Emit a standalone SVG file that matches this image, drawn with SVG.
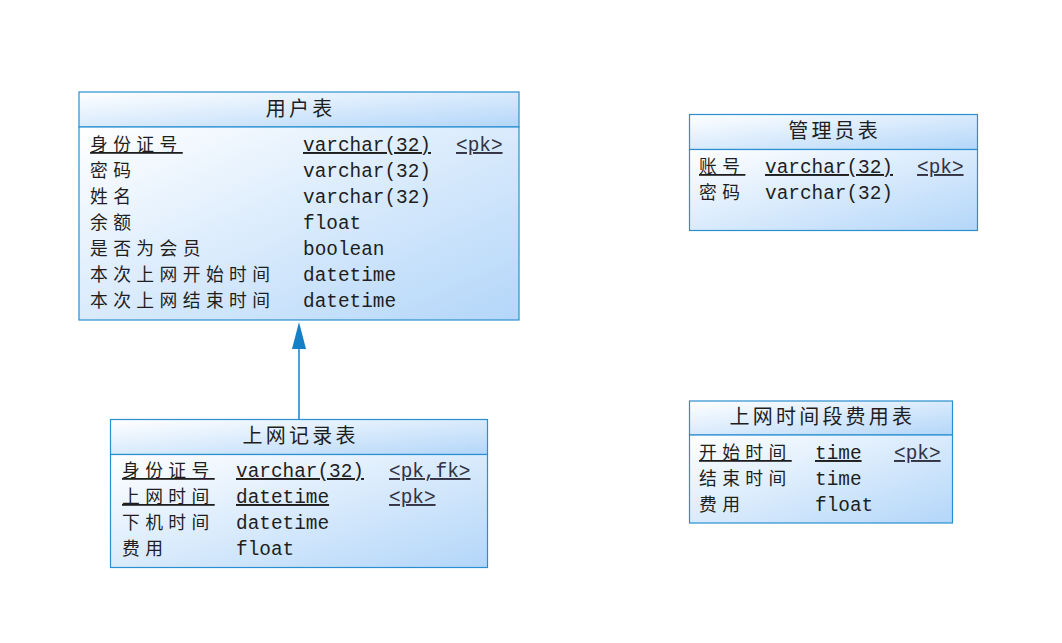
<svg xmlns="http://www.w3.org/2000/svg" width="1062" height="643" viewBox="0 0 1062 643">
<defs>
<linearGradient id="g" x1="0" y1="0" x2="1" y2="1">
<stop offset="0" stop-color="#ffffff"/>
<stop offset="1" stop-color="#b3d6f9"/>
</linearGradient>
<style>
.box{fill:url(#g);stroke:#2a8fd0;stroke-width:1.2}
.cn{font-family:"Noto Sans CJK SC","Liberation Sans",sans-serif;font-size:17.8px;letter-spacing:5.4px;fill:#1e1e1e}
.t{font-family:"Noto Sans CJK SC","Liberation Sans",sans-serif;font-size:20px;letter-spacing:3.2px;fill:#1e1e1e;text-anchor:middle}
.en{font-family:"Liberation Mono","DejaVu Sans Mono",monospace;font-size:19.4px;fill:#1e1e1e}
.k{font-family:"Liberation Mono","DejaVu Sans Mono",monospace;font-size:19.4px;fill:#333344}
.u{text-decoration:underline}
.conn{stroke:#1580c8;stroke-width:1.5;fill:none}
.head{fill:#1580c8}
</style>
</defs>
<rect width="1062" height="643" fill="#ffffff"/>

<g id="connectors">
<line class="conn" x1="299" y1="419" x2="299" y2="345"/>
<path class="head" d="M299,322 L306,349 L292,349 Z"/>
</g>

<g id="user">
<rect class="box" x="79" y="92" width="440" height="35"/>
<rect class="box" x="79" y="127" width="440" height="193"/>
<text class="t" x="300.6" y="116">用户表</text>
<text class="cn u" x="90" y="151">身份证号</text>
<text class="cn" x="90" y="177">密码</text>
<text class="cn" x="90" y="203">姓名</text>
<text class="cn" x="90" y="229">余额</text>
<text class="cn" x="90" y="255">是否为会员</text>
<text class="cn" x="90" y="281">本次上网开始时间</text>
<text class="cn" x="90" y="307">本次上网结束时间</text>
<text class="en u" x="303" y="151">varchar(32)</text>
<text class="en" x="303" y="177">varchar(32)</text>
<text class="en" x="303" y="203">varchar(32)</text>
<text class="en" x="303" y="229">float</text>
<text class="en" x="303" y="255">boolean</text>
<text class="en" x="303" y="281">datetime</text>
<text class="en" x="303" y="307">datetime</text>
<text class="k u" x="456" y="151">&lt;pk&gt;</text>
</g>

<g id="record">
<rect class="box" x="110.5" y="419.5" width="377" height="35"/>
<rect class="box" x="110.5" y="454.5" width="377" height="113"/>
<text class="t" x="300.6" y="443">上网记录表</text>
<text class="cn u" x="122" y="477">身份证号</text>
<text class="cn u" x="122" y="503">上网时间</text>
<text class="cn" x="122" y="529">下机时间</text>
<text class="cn" x="122" y="555">费用</text>
<text class="en u" x="236" y="477">varchar(32)</text>
<text class="en u" x="236" y="503">datetime</text>
<text class="en" x="236" y="529">datetime</text>
<text class="en" x="236" y="555">float</text>
<text class="k u" x="389" y="477">&lt;pk,fk&gt;</text>
<text class="k u" x="389" y="503">&lt;pk&gt;</text>
</g>

<g id="admin">
<rect class="box" x="689.5" y="114.5" width="288" height="35"/>
<rect class="box" x="689.5" y="149.5" width="288" height="81"/>
<text class="t" x="834.6" y="138">管理员表</text>
<text class="cn u" x="699" y="173">账号</text>
<text class="cn" x="699" y="199">密码</text>
<text class="en u" x="765" y="173">varchar(32)</text>
<text class="en" x="765" y="199">varchar(32)</text>
<text class="k u" x="917" y="173">&lt;pk&gt;</text>
</g>

<g id="fee">
<rect class="box" x="689.5" y="401" width="263" height="34"/>
<rect class="box" x="689.5" y="435" width="263" height="88"/>
<text class="t" x="822.4" y="424">上网时间段费用表</text>
<text class="cn u" x="699" y="459">开始时间</text>
<text class="cn" x="699" y="485">结束时间</text>
<text class="cn" x="699" y="511">费用</text>
<text class="en u" x="815" y="459">time</text>
<text class="en" x="815" y="485">time</text>
<text class="en" x="815" y="511">float</text>
<text class="k u" x="894" y="459">&lt;pk&gt;</text>
</g>
</svg>
